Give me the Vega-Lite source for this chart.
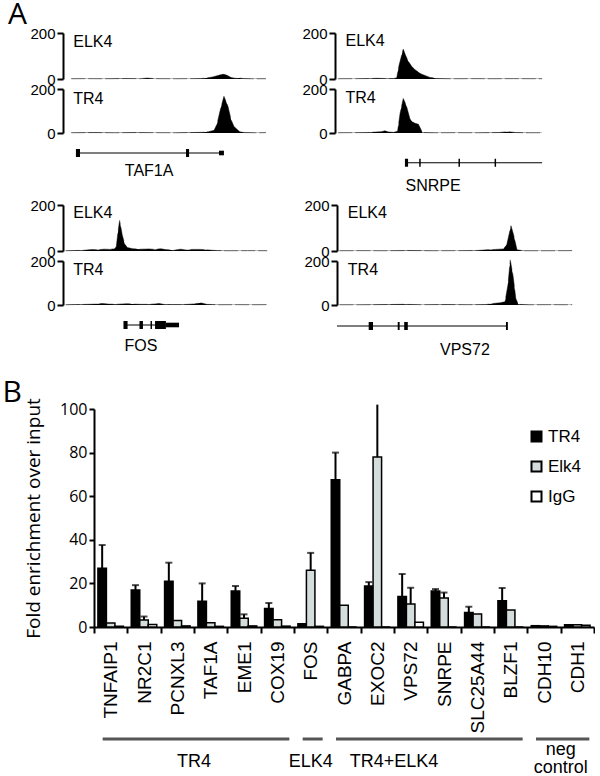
{
"$schema": "https://vega.github.io/schema/vega-lite/v6.json",
"padding": {"left": 2, "top": 0, "right": 0, "bottom": 0},
"background": "white",
"config": {"view": {"stroke": null}, "font": "Liberation Sans",
  "axis": {"labelColor": "#000", "titleColor": "#000", "domainColor": "#000", "tickColor": "#000", "grid": false}},
"datasets": {
 "t1e": [{"pos":4,"sig":1},{"pos":12,"sig":1.5},{"pos":20,"sig":1},{"pos":30,"sig":2},{"pos":38,"sig":1.5},{"pos":41,"sig":4},{"pos":45,"sig":1.5},{"pos":55,"sig":1},{"pos":62,"sig":1.5},{"pos":67,"sig":2},{"pos":70,"sig":4},{"pos":73,"sig":9},{"pos":76,"sig":16},{"pos":78,"sig":22},{"pos":80,"sig":16},{"pos":82,"sig":6},{"pos":84,"sig":3},{"pos":86,"sig":4},{"pos":88,"sig":2},{"pos":92,"sig":1},{"pos":99,"sig":1}],
 "t1t": [{"pos":4,"sig":1},{"pos":15,"sig":2},{"pos":25,"sig":1},{"pos":35,"sig":2},{"pos":45,"sig":1.5},{"pos":55,"sig":1},{"pos":62,"sig":2},{"pos":68,"sig":3},{"pos":71,"sig":6},{"pos":73.7,"sig":12},{"pos":75.1,"sig":40},{"pos":76.6,"sig":100},{"pos":78.5,"sig":167},{"pos":80.5,"sig":120},{"pos":82,"sig":60},{"pos":83.4,"sig":30},{"pos":85.9,"sig":8},{"pos":88.3,"sig":2},{"pos":94,"sig":1},{"pos":99,"sig":1.5}],
 "t2e": [{"pos":1.5,"sig":1},{"pos":10,"sig":1.5},{"pos":16,"sig":2},{"pos":20,"sig":3},{"pos":24,"sig":2},{"pos":28,"sig":2},{"pos":29.4,"sig":5},{"pos":30.5,"sig":60},{"pos":32.5,"sig":130},{"pos":33.5,"sig":105},{"pos":34.9,"sig":77},{"pos":36.5,"sig":55},{"pos":38.1,"sig":40},{"pos":41.3,"sig":21},{"pos":45.2,"sig":7},{"pos":49,"sig":2},{"pos":55,"sig":1},{"pos":65,"sig":1.5},{"pos":75,"sig":1},{"pos":85,"sig":1.5},{"pos":98.6,"sig":1}],
 "t2t": [{"pos":1.5,"sig":1},{"pos":8,"sig":1.5},{"pos":15,"sig":2},{"pos":19,"sig":4},{"pos":22,"sig":6},{"pos":23.8,"sig":10},{"pos":26,"sig":4},{"pos":28,"sig":3},{"pos":29.8,"sig":8},{"pos":31,"sig":90},{"pos":32.5,"sig":157},{"pos":33.3,"sig":140},{"pos":34.1,"sig":120},{"pos":35.7,"sig":64},{"pos":37,"sig":50},{"pos":38.1,"sig":44},{"pos":39.7,"sig":40},{"pos":41,"sig":15},{"pos":41.6,"sig":2},{"pos":48,"sig":1},{"pos":58,"sig":1.5},{"pos":68,"sig":1},{"pos":78,"sig":2},{"pos":82.5,"sig":6},{"pos":86,"sig":2},{"pos":92,"sig":1},{"pos":98.6,"sig":1}],
 "t3e": [{"pos":1.3,"sig":1},{"pos":5,"sig":2},{"pos":10,"sig":3},{"pos":14,"sig":6},{"pos":17,"sig":5},{"pos":20,"sig":8},{"pos":23,"sig":7},{"pos":25,"sig":10},{"pos":26,"sig":20},{"pos":26.8,"sig":80},{"pos":27.6,"sig":133},{"pos":28.3,"sig":100},{"pos":28.9,"sig":70},{"pos":30.1,"sig":30},{"pos":31.4,"sig":15},{"pos":34,"sig":10},{"pos":38,"sig":8},{"pos":42,"sig":9},{"pos":45,"sig":7},{"pos":47.6,"sig":10},{"pos":50,"sig":6},{"pos":54,"sig":3},{"pos":57.4,"sig":8},{"pos":60,"sig":4},{"pos":63,"sig":7},{"pos":67,"sig":7},{"pos":70,"sig":5},{"pos":73,"sig":3},{"pos":75.3,"sig":2},{"pos":80,"sig":1},{"pos":90,"sig":1.5},{"pos":99.6,"sig":1}],
 "t3t": [{"pos":1.3,"sig":1},{"pos":6,"sig":2},{"pos":12,"sig":3},{"pos":16,"sig":4},{"pos":19.2,"sig":7},{"pos":22,"sig":4},{"pos":26,"sig":3},{"pos":29,"sig":5},{"pos":31.4,"sig":6},{"pos":34,"sig":4},{"pos":38,"sig":3},{"pos":42,"sig":3},{"pos":45,"sig":5},{"pos":46.8,"sig":7},{"pos":49,"sig":3},{"pos":53,"sig":2},{"pos":57,"sig":2},{"pos":61,"sig":3},{"pos":64,"sig":5},{"pos":67.2,"sig":10},{"pos":70,"sig":3},{"pos":73,"sig":2},{"pos":76,"sig":1},{"pos":85,"sig":1.5},{"pos":92,"sig":1},{"pos":99.6,"sig":1.5}],
 "t4e": [{"pos":1,"sig":1},{"pos":10,"sig":1.5},{"pos":20,"sig":1},{"pos":30,"sig":2},{"pos":40,"sig":1},{"pos":50,"sig":1.5},{"pos":58,"sig":2},{"pos":62.5,"sig":5},{"pos":66,"sig":7},{"pos":69.4,"sig":9},{"pos":70.8,"sig":30},{"pos":72.5,"sig":110},{"pos":73.6,"sig":70},{"pos":75,"sig":5},{"pos":78,"sig":1},{"pos":88,"sig":1},{"pos":98,"sig":1.5}],
 "t4t": [{"pos":1,"sig":1},{"pos":10,"sig":1},{"pos":20,"sig":2},{"pos":27.8,"sig":3},{"pos":35,"sig":1.5},{"pos":45,"sig":2},{"pos":55,"sig":1.5},{"pos":62,"sig":2},{"pos":66,"sig":8},{"pos":68,"sig":10},{"pos":70,"sig":15},{"pos":71.2,"sig":90},{"pos":72.2,"sig":205},{"pos":73.4,"sig":130},{"pos":74.5,"sig":30},{"pos":75.5,"sig":3},{"pos":80,"sig":1},{"pos":88,"sig":1.5},{"pos":98,"sig":1}],
 "genes": [
  {"locus":"TAF1A","part":"intron","start":6.8,"end":77.6},
  {"locus":"TAF1A","part":"exon","start":6.3,"end":8.3},
  {"locus":"TAF1A","part":"exon","start":60,"end":61.5},
  {"locus":"TAF1A","part":"utr","start":76.1,"end":78.5},
  {"locus":"SNRPE","part":"intron","start":33.8,"end":98.6},
  {"locus":"SNRPE","part":"exon","start":33.3,"end":34.8},
  {"locus":"SNRPE","part":"exon","start":40.1,"end":40.8},
  {"locus":"SNRPE","part":"exon","start":58.8,"end":59.5},
  {"locus":"SNRPE","part":"exon","start":76,"end":76.7},
  {"locus":"FOS","part":"intron","start":29.8,"end":56.6},
  {"locus":"FOS","part":"exon","start":29.5,"end":31.5},
  {"locus":"FOS","part":"exon","start":37.3,"end":39},
  {"locus":"FOS","part":"exon","start":42.7,"end":43.4},
  {"locus":"FOS","part":"exon","start":44.9,"end":50.2},
  {"locus":"FOS","part":"utr","start":50.2,"end":56.6},
  {"locus":"VPS72","part":"intron","start":0,"end":70.8},
  {"locus":"VPS72","part":"exon","start":13.2,"end":15},
  {"locus":"VPS72","part":"exon","start":25.3,"end":26.1},
  {"locus":"VPS72","part":"exon","start":28,"end":29.5},
  {"locus":"VPS72","part":"exon","start":70.4,"end":71.2}
 ],
 "chip": [
  {"gene":"TNFAIP1","ab":"TR4","val":27,"hi":37.6},{"gene":"TNFAIP1","ab":"Elk4","val":1.8,"hi":null},{"gene":"TNFAIP1","ab":"IgG","val":0.4,"hi":null},
  {"gene":"NR2C1","ab":"TR4","val":17,"hi":19.2},{"gene":"NR2C1","ab":"Elk4","val":3.2,"hi":4.8},{"gene":"NR2C1","ab":"IgG","val":1.2,"hi":null},
  {"gene":"PCNXL3","ab":"TR4","val":21,"hi":29.5},{"gene":"PCNXL3","ab":"Elk4","val":3,"hi":null},{"gene":"PCNXL3","ab":"IgG","val":0.5,"hi":null},
  {"gene":"TAF1A","ab":"TR4","val":11.8,"hi":20},{"gene":"TAF1A","ab":"Elk4","val":2,"hi":null},{"gene":"TAF1A","ab":"IgG","val":0.3,"hi":null},
  {"gene":"EME1","ab":"TR4","val":16.5,"hi":18.8},{"gene":"EME1","ab":"Elk4","val":4,"hi":5.8},{"gene":"EME1","ab":"IgG","val":0.5,"hi":null},
  {"gene":"COX19","ab":"TR4","val":8.5,"hi":11},{"gene":"COX19","ab":"Elk4","val":3.3,"hi":null},{"gene":"COX19","ab":"IgG","val":0.4,"hi":null},
  {"gene":"FOS","ab":"TR4","val":1.5,"hi":null},{"gene":"FOS","ab":"Elk4","val":26,"hi":34},{"gene":"FOS","ab":"IgG","val":0.3,"hi":null},
  {"gene":"GABPA","ab":"TR4","val":67.5,"hi":80},{"gene":"GABPA","ab":"Elk4","val":10,"hi":null},{"gene":"GABPA","ab":"IgG","val":0,"hi":null},
  {"gene":"EXOC2","ab":"TR4","val":18.8,"hi":20.6},{"gene":"EXOC2","ab":"Elk4","val":78,"hi":102},{"gene":"EXOC2","ab":"IgG","val":0,"hi":null},
  {"gene":"VPS72","ab":"TR4","val":14,"hi":24.3},{"gene":"VPS72","ab":"Elk4","val":10.5,"hi":18},{"gene":"VPS72","ab":"IgG","val":2.2,"hi":null},
  {"gene":"SNRPE","ab":"TR4","val":16.5,"hi":17.4},{"gene":"SNRPE","ab":"Elk4","val":13.3,"hi":15.8},{"gene":"SNRPE","ab":"IgG","val":0,"hi":null},
  {"gene":"SLC25A44","ab":"TR4","val":6.7,"hi":9.3},{"gene":"SLC25A44","ab":"Elk4","val":6,"hi":null},{"gene":"SLC25A44","ab":"IgG","val":0,"hi":null},
  {"gene":"BLZF1","ab":"TR4","val":12,"hi":17.9},{"gene":"BLZF1","ab":"Elk4","val":7.8,"hi":null},{"gene":"BLZF1","ab":"IgG","val":0,"hi":null},
  {"gene":"CDH10","ab":"TR4","val":0.6,"hi":null},{"gene":"CDH10","ab":"Elk4","val":0.5,"hi":null},{"gene":"CDH10","ab":"IgG","val":0.3,"hi":null},
  {"gene":"CDH1","ab":"TR4","val":1,"hi":null},{"gene":"CDH1","ab":"Elk4","val":1,"hi":null},{"gene":"CDH1","ab":"IgG","val":0.8,"hi":null}
 ],
 "groups": [
  {"group":"TR4","first":"TNFAIP1","last":"COX19","at":"TAF1A"},
  {"group":"ELK4","first":"FOS","last":"FOS","at":"FOS"},
  {"group":"TR4+ELK4","first":"GABPA","last":"BLZF1","at":"VPS72"},
  {"group":"neg\ncontrol","first":"CDH10","last":"CDH1","at":"CDH1"}
 ]
},
"spacing": 17,
"vconcat": [
 {
  "title": {"text": "A", "anchor": "start", "frame": "bounds", "fontSize": 30, "font": "Open Sans", "fontWeight": "normal", "color": "#000", "dx": -22, "offset": -4},
  "spacing": 3,
  "vconcat": [
   {"spacing": 33, "hconcat": [
    {"spacing": 10, "bounds": "flush", "vconcat": [
     {"width": 174, "height": 46, "data": {"name": "t1e"}, "layer": [
      {"mark": {"type": "line", "stroke": "#888", "strokeWidth": 1, "strokeDash": [14, 3]}, "encoding": {"x": {"field": "pos", "type": "quantitative", "scale": {"domain": [15.12, 100], "nice": false, "zero": false}, "axis": null}, "y": {"field": "sig", "type": "quantitative", "scale": {"domain": [0, 200], "nice": false}, "axis": {"offset": 31, "values": [0, 100, 200], "labelExpr": "datum.value == 100 ? '' : datum.label", "title": null, "domainWidth": 2, "tickWidth": 2, "tickSize": 6, "labelFontSize": 15, "labelPadding": 2}}}},
      {"mark": {"type": "area", "color": "#000"}, "encoding": {"x": {"field": "pos", "type": "quantitative"}, "y": {"field": "sig", "type": "quantitative"}}},
      {"data": {"values": [{"lab": "ELK4"}]}, "mark": {"type": "text", "align": "left", "baseline": "middle", "fontSize": 16}, "encoding": {"x": {"datum": 5}, "y": {"datum": 160}, "text": {"field": "lab"}}}
     ]},
     {"width": 174, "height": 44, "data": {"name": "t1t"}, "layer": [
      {"mark": {"type": "line", "stroke": "#888", "strokeWidth": 1, "strokeDash": [14, 3]}, "encoding": {"x": {"field": "pos", "type": "quantitative", "scale": {"domain": [15.12, 100], "nice": false, "zero": false}, "axis": null}, "y": {"field": "sig", "type": "quantitative", "scale": {"domain": [0, 200], "nice": false}, "axis": {"offset": 31, "values": [0, 100, 200], "labelExpr": "datum.value == 100 ? '' : datum.label", "title": null, "domainWidth": 2, "tickWidth": 2, "tickSize": 6, "labelFontSize": 15, "labelPadding": 2}}}},
      {"mark": {"type": "area", "color": "#000"}, "encoding": {"x": {"field": "pos", "type": "quantitative"}, "y": {"field": "sig", "type": "quantitative"}}},
      {"data": {"values": [{"lab": "TR4"}]}, "mark": {"type": "text", "align": "left", "baseline": "middle", "fontSize": 16}, "encoding": {"x": {"datum": 5}, "y": {"datum": 155}, "text": {"field": "lab"}}}
     ]},
     {"width": 174, "height": 40, "layer": [
      {"data": {"name": "genes"}, "transform": [{"filter": "datum.locus == 'TAF1A'"}], "mark": {"type": "rule", "color": "#000", "strokeCap": "butt"}, "encoding": {"x": {"field": "start", "type": "quantitative", "scale": {"domain": [15.12, 100], "nice": false, "zero": false}, "axis": null}, "x2": {"field": "end"}, "y": {"datum": 0.75, "type": "quantitative", "scale": {"domain": [0, 1]}, "axis": null}, "strokeWidth": {"field": "part", "type": "nominal", "scale": {"domain": ["intron", "utr", "exon"], "range": [1.2, 8, 13]}, "legend": null}}},
      {"data": {"values": [{"name": "TAF1A", "mid": 42}]}, "mark": {"type": "text", "fontSize": 16, "baseline": "middle"}, "encoding": {"x": {"field": "mid", "type": "quantitative"}, "y": {"datum": 0.3, "type": "quantitative"}, "text": {"field": "name"}}}
     ]}
    ]},
    {"spacing": 10, "bounds": "flush", "vconcat": [
     {"width": 210, "height": 46, "data": {"name": "t2e"}, "layer": [
      {"mark": {"type": "line", "stroke": "#888", "strokeWidth": 1, "strokeDash": [14, 3]}, "encoding": {"x": {"field": "pos", "type": "quantitative", "scale": {"domain": [0, 100]}, "axis": null}, "y": {"field": "sig", "type": "quantitative", "scale": {"domain": [0, 200], "nice": false}, "axis": {"values": [0, 100, 200], "labelExpr": "datum.value == 100 ? '' : datum.label", "title": null, "domainWidth": 2, "tickWidth": 2, "tickSize": 6, "labelFontSize": 15, "labelPadding": 2}}}},
      {"mark": {"type": "area", "color": "#000"}, "encoding": {"x": {"field": "pos", "type": "quantitative"}, "y": {"field": "sig", "type": "quantitative"}}},
      {"data": {"values": [{"lab": "ELK4"}]}, "mark": {"type": "text", "align": "left", "baseline": "middle", "fontSize": 16}, "encoding": {"x": {"datum": 5}, "y": {"datum": 165}, "text": {"field": "lab"}}}
     ]},
     {"width": 210, "height": 44, "data": {"name": "t2t"}, "layer": [
      {"mark": {"type": "line", "stroke": "#888", "strokeWidth": 1, "strokeDash": [14, 3]}, "encoding": {"x": {"field": "pos", "type": "quantitative", "scale": {"domain": [0, 100]}, "axis": null}, "y": {"field": "sig", "type": "quantitative", "scale": {"domain": [0, 200], "nice": false}, "axis": {"values": [0, 100, 200], "labelExpr": "datum.value == 100 ? '' : datum.label", "title": null, "domainWidth": 2, "tickWidth": 2, "tickSize": 6, "labelFontSize": 15, "labelPadding": 2}}}},
      {"mark": {"type": "area", "color": "#000"}, "encoding": {"x": {"field": "pos", "type": "quantitative"}, "y": {"field": "sig", "type": "quantitative"}}},
      {"data": {"values": [{"lab": "TR4"}]}, "mark": {"type": "text", "align": "left", "baseline": "middle", "fontSize": 16}, "encoding": {"x": {"datum": 5}, "y": {"datum": 157}, "text": {"field": "lab"}}}
     ]},
     {"width": 210, "height": 52, "layer": [
      {"data": {"name": "genes"}, "transform": [{"filter": "datum.locus == 'SNRPE'"}], "mark": {"type": "rule", "color": "#000", "strokeCap": "butt"}, "encoding": {"x": {"field": "start", "type": "quantitative", "scale": {"domain": [0, 100]}, "axis": null}, "x2": {"field": "end"}, "y": {"datum": 0.62, "type": "quantitative", "scale": {"domain": [0, 1]}, "axis": null}, "strokeWidth": {"field": "part", "type": "nominal", "scale": {"domain": ["intron", "utr", "exon"], "range": [1.2, 8, 15]}, "legend": null}}},
      {"data": {"values": [{"name": "SNRPE", "mid": 46.7}]}, "mark": {"type": "text", "fontSize": 16, "baseline": "middle"}, "encoding": {"x": {"field": "mid", "type": "quantitative"}, "y": {"datum": 0.17, "type": "quantitative"}, "text": {"field": "name"}}}
     ]}
    ]}
   ]},
   {"spacing": 33, "hconcat": [
    {"spacing": 10, "bounds": "flush", "vconcat": [
     {"width": 174, "height": 46, "data": {"name": "t3e"}, "layer": [
      {"mark": {"type": "line", "stroke": "#888", "strokeWidth": 1, "strokeDash": [14, 3]}, "encoding": {"x": {"field": "pos", "type": "quantitative", "scale": {"domain": [15.12, 100], "nice": false, "zero": false}, "axis": null}, "y": {"field": "sig", "type": "quantitative", "scale": {"domain": [0, 200], "nice": false}, "axis": {"offset": 31, "values": [0, 100, 200], "labelExpr": "datum.value == 100 ? '' : datum.label", "title": null, "domainWidth": 2, "tickWidth": 2, "tickSize": 6, "labelFontSize": 15, "labelPadding": 2}}}},
      {"mark": {"type": "area", "color": "#000"}, "encoding": {"x": {"field": "pos", "type": "quantitative"}, "y": {"field": "sig", "type": "quantitative"}}},
      {"data": {"values": [{"lab": "ELK4"}]}, "mark": {"type": "text", "align": "left", "baseline": "middle", "fontSize": 16}, "encoding": {"x": {"datum": 5}, "y": {"datum": 165}, "text": {"field": "lab"}}}
     ]},
     {"width": 174, "height": 44, "data": {"name": "t3t"}, "layer": [
      {"mark": {"type": "line", "stroke": "#888", "strokeWidth": 1, "strokeDash": [14, 3]}, "encoding": {"x": {"field": "pos", "type": "quantitative", "scale": {"domain": [15.12, 100], "nice": false, "zero": false}, "axis": null}, "y": {"field": "sig", "type": "quantitative", "scale": {"domain": [0, 200], "nice": false}, "axis": {"offset": 31, "values": [0, 100, 200], "labelExpr": "datum.value == 100 ? '' : datum.label", "title": null, "domainWidth": 2, "tickWidth": 2, "tickSize": 6, "labelFontSize": 15, "labelPadding": 2}}}},
      {"mark": {"type": "area", "color": "#000"}, "encoding": {"x": {"field": "pos", "type": "quantitative"}, "y": {"field": "sig", "type": "quantitative"}}},
      {"data": {"values": [{"lab": "TR4"}]}, "mark": {"type": "text", "align": "left", "baseline": "middle", "fontSize": 16}, "encoding": {"x": {"datum": 5}, "y": {"datum": 160}, "text": {"field": "lab"}}}
     ]},
     {"width": 174, "height": 45, "layer": [
      {"data": {"name": "genes"}, "transform": [{"filter": "datum.locus == 'FOS'"}], "mark": {"type": "rule", "color": "#000", "strokeCap": "butt"}, "encoding": {"x": {"field": "start", "type": "quantitative", "scale": {"domain": [15.12, 100], "nice": false, "zero": false}, "axis": null}, "x2": {"field": "end"}, "y": {"datum": 0.778, "type": "quantitative", "scale": {"domain": [0, 1]}, "axis": null}, "strokeWidth": {"field": "part", "type": "nominal", "scale": {"domain": ["intron", "utr", "exon"], "range": [1.2, 8, 13]}, "legend": null}}},
      {"data": {"values": [{"name": "FOS", "mid": 38}]}, "mark": {"type": "text", "fontSize": 16, "baseline": "middle"}, "encoding": {"x": {"field": "mid", "type": "quantitative"}, "y": {"datum": 0.31, "type": "quantitative"}, "text": {"field": "name"}}}
     ]}
    ]},
    {"spacing": 10, "bounds": "flush", "vconcat": [
     {"width": 240, "height": 46, "data": {"name": "t4e"}, "layer": [
      {"mark": {"type": "line", "stroke": "#888", "strokeWidth": 1, "strokeDash": [14, 3]}, "encoding": {"x": {"field": "pos", "type": "quantitative", "scale": {"domain": [0, 100]}, "axis": null}, "y": {"field": "sig", "type": "quantitative", "scale": {"domain": [0, 200], "nice": false}, "axis": {"values": [0, 100, 200], "labelExpr": "datum.value == 100 ? '' : datum.label", "title": null, "domainWidth": 2, "tickWidth": 2, "tickSize": 6, "labelFontSize": 15, "labelPadding": 2}}}},
      {"mark": {"type": "area", "color": "#000"}, "encoding": {"x": {"field": "pos", "type": "quantitative"}, "y": {"field": "sig", "type": "quantitative"}}},
      {"data": {"values": [{"lab": "ELK4"}]}, "mark": {"type": "text", "align": "left", "baseline": "middle", "fontSize": 16}, "encoding": {"x": {"datum": 4.5}, "y": {"datum": 165}, "text": {"field": "lab"}}}
     ]},
     {"width": 240, "height": 44, "data": {"name": "t4t"}, "layer": [
      {"mark": {"type": "line", "stroke": "#888", "strokeWidth": 1, "strokeDash": [14, 3]}, "encoding": {"x": {"field": "pos", "type": "quantitative", "scale": {"domain": [0, 100]}, "axis": null}, "y": {"field": "sig", "type": "quantitative", "scale": {"domain": [0, 200], "nice": false}, "axis": {"values": [0, 100, 200], "labelExpr": "datum.value == 100 ? '' : datum.label", "title": null, "domainWidth": 2, "tickWidth": 2, "tickSize": 6, "labelFontSize": 15, "labelPadding": 2}}}},
      {"mark": {"type": "area", "color": "#000"}, "encoding": {"x": {"field": "pos", "type": "quantitative"}, "y": {"field": "sig", "type": "quantitative"}}},
      {"data": {"values": [{"lab": "TR4"}]}, "mark": {"type": "text", "align": "left", "baseline": "middle", "fontSize": 16}, "encoding": {"x": {"datum": 4.5}, "y": {"datum": 157}, "text": {"field": "lab"}}}
     ]},
     {"width": 240, "height": 45, "layer": [
      {"data": {"name": "genes"}, "transform": [{"filter": "datum.locus == 'VPS72'"}], "mark": {"type": "rule", "color": "#000", "strokeCap": "butt"}, "encoding": {"x": {"field": "start", "type": "quantitative", "scale": {"domain": [0, 100]}, "axis": null}, "x2": {"field": "end"}, "y": {"datum": 0.756, "type": "quantitative", "scale": {"domain": [0, 1]}, "axis": null}, "strokeWidth": {"field": "part", "type": "nominal", "scale": {"domain": ["intron", "utr", "exon"], "range": [1.2, 8, 14]}, "legend": null}}},
      {"data": {"values": [{"name": "VPS72", "mid": 53.3}]}, "mark": {"type": "text", "fontSize": 16, "baseline": "middle"}, "encoding": {"x": {"field": "mid", "type": "quantitative"}, "y": {"datum": 0.222, "type": "quantitative"}, "text": {"field": "name"}}}
     ]}
    ]}
   ]}
  ]
 },
 {
  "title": {"text": "B", "anchor": "start", "frame": "bounds", "fontSize": 30, "font": "Open Sans", "fontWeight": "normal", "color": "#000", "dx": -22, "offset": -10},
  "spacing": 112,
  "bounds": "flush",
  "vconcat": [
   {"width": 500, "height": 218, "data": {"name": "chip"},
    "encoding": {"x": {"field": "gene", "type": "nominal", "sort": ["TNFAIP1","NR2C1","PCNXL3","TAF1A","EME1","COX19","FOS","GABPA","EXOC2","VPS72","SNRPE","SLC25A44","BLZF1","CDH10","CDH1"], "scale": {"domain": ["TNFAIP1","NR2C1","PCNXL3","TAF1A","EME1","COX19","FOS","GABPA","EXOC2","VPS72","SNRPE","SLC25A44","BLZF1","CDH10","CDH1"], "paddingInner": 0, "paddingOuter": 0}, "axis": {"title": null, "tickBand": "extent", "labelAngle": -90, "labelFontSize": 19, "labelFont": "Liberation Sans", "labelPadding": 8, "tickSize": 6, "tickWidth": 2, "domainWidth": 2}}},
    "layer": [
     {"mark": {"type": "bar", "stroke": "#000", "strokeWidth": 1.5},
      "encoding": {
       "xOffset": {"field": "ab", "type": "nominal", "sort": ["TR4", "Elk4", "IgG"], "scale": {"domain": ["TR4", "Elk4", "IgG"], "paddingInner": 0, "paddingOuter": 0.46}},
       "y": {"field": "val", "type": "quantitative", "scale": {"domain": [0, 100], "nice": false}, "axis": {"values": [0, 20, 40, 60, 80, 100], "title": "Fold enrichment over input", "titleFont": "Open Sans", "titleFontSize": 19, "titleFontWeight": "normal", "titlePadding": 16, "labelFont": "Open Sans", "labelFontSize": 16, "labelPadding": 2, "tickSize": 5, "tickWidth": 2, "domainWidth": 2}},
       "color": {"field": "ab", "type": "nominal", "scale": {"domain": ["TR4", "Elk4", "IgG"], "range": ["#000000", "#d5dddc", "#ffffff"]}, "legend": {"title": null, "orient": "none", "legendX": 434, "legendY": 395, "symbolType": "square", "symbolSize": 100, "symbolStrokeColor": "#000", "symbolStrokeWidth": 2, "labelFontSize": 17, "labelFont": "Liberation Sans", "labelColor": "#000", "rowPadding": 11, "labelOffset": 3}}
      }},
     {"transform": [{"filter": "datum.hi != null"}], "mark": {"type": "rule", "color": "#000", "strokeWidth": 2},
      "encoding": {"xOffset": {"field": "ab", "type": "nominal", "sort": ["TR4", "Elk4", "IgG"], "scale": {"domain": ["TR4", "Elk4", "IgG"], "paddingInner": 0, "paddingOuter": 0.46}}, "y": {"field": "val", "type": "quantitative"}, "y2": {"field": "hi"}}},
     {"transform": [{"filter": "datum.hi != null && datum.hi <= 100"}], "mark": {"type": "tick", "color": "#000", "thickness": 2, "size": 7},
      "encoding": {"xOffset": {"field": "ab", "type": "nominal", "sort": ["TR4", "Elk4", "IgG"], "scale": {"domain": ["TR4", "Elk4", "IgG"], "paddingInner": 0, "paddingOuter": 0.46}}, "y": {"field": "hi", "type": "quantitative"}}}
    ]
   },
   {"width": 500, "height": 32, "data": {"name": "groups"},
    "layer": [
     {"mark": {"type": "rule", "color": "#555", "strokeWidth": 3, "xOffset": -8, "x2Offset": 12},
      "encoding": {"x": {"field": "first", "type": "nominal", "scale": {"domain": ["TNFAIP1","NR2C1","PCNXL3","TAF1A","EME1","COX19","FOS","GABPA","EXOC2","VPS72","SNRPE","SLC25A44","BLZF1","CDH10","CDH1"], "paddingInner": 0, "paddingOuter": 0}, "axis": null}, "x2": {"field": "last"}, "y": {"datum": 1, "type": "quantitative", "scale": {"domain": [0, 1]}, "axis": null}}},
     {"transform": [{"filter": "datum.at == 'TAF1A' || datum.at == 'VPS72'"}], "mark": {"type": "text", "fontSize": 18, "baseline": "middle"},
      "encoding": {"x": {"field": "at", "type": "nominal", "bandPosition": 0}, "y": {"datum": 0.27, "type": "quantitative"}, "text": {"field": "group"}}},
     {"transform": [{"filter": "datum.at == 'FOS'"}], "mark": {"type": "text", "fontSize": 18, "baseline": "middle"},
      "encoding": {"x": {"field": "at", "type": "nominal", "bandPosition": 0.5}, "y": {"datum": 0.27, "type": "quantitative"}, "text": {"field": "group"}}},
     {"transform": [{"filter": "datum.at == 'CDH1'"}], "mark": {"type": "text", "fontSize": 18, "baseline": "middle", "lineBreak": "\n", "lineHeight": 18},
      "encoding": {"x": {"field": "at", "type": "nominal", "bandPosition": 0}, "y": {"datum": 0.66, "type": "quantitative"}, "text": {"field": "group"}}}
    ]
   }
  ]
 }
]
}
